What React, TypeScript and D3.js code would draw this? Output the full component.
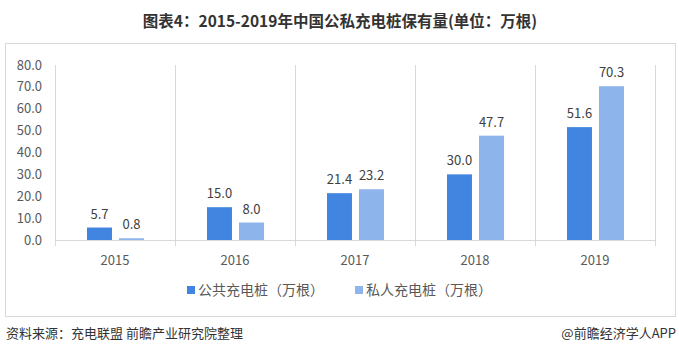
import React from "react";
import * as d3 from "d3";

const years = ["2015", "2016", "2017", "2018", "2019"];
const publicPiles = [5.7, 15.0, 21.4, 30.0, 51.6];
const privatePiles = [0.8, 8.0, 23.2, 47.7, 70.3];
const seriesNames = ["公共充电桩（万根）", "私人充电桩（万根）"];
const seriesColors = ["#4185E1", "#8DB5EB"];
const yTicks = [0, 10, 20, 30, 40, 50, 60, 70, 80];
const title = "图表4：2015-2019年中国公私充电桩保有量(单位：万根)";
const source = "资料来源：充电联盟 前瞻产业研究院整理";
const credit = "@前瞻经济学人APP";

const W = 679;
const H = 360;
const font = "'Microsoft YaHei', 'Noto Sans CJK SC', 'DejaVu Sans', sans-serif";

export default function App() {
  const x = d3.scaleBand().domain(years).range([55, 655]).paddingInner(0).paddingOuter(0);
  const y = d3.scaleLinear().domain([0, 80]).range([240, 65]);
  const inner = d3.scaleBand().domain(["0", "1"]).range([32, 89]).paddingInner(0.22);
  const series = [publicPiles, privatePiles];

  return (
    <svg width={W} height={H} style={{ position: "absolute", left: 0, top: 0, background: "#fff" }}>
      <text x={340} y={27} textAnchor="middle" fontSize={15.5} fontWeight="bold" fill="#333" fontFamily={font}>
        {title}
      </text>
      <rect x={5.5} y={43.5} width={670} height={273} fill="none" stroke="#D9D9D9" />
      {years.map((yr, i) => (
        <line key={"g" + i} x1={(x(yr) as number) + 0.5} x2={(x(yr) as number) + 0.5} y1={65} y2={246} stroke="#D9D9D9" />
      ))}
      <line x1={655.5} x2={655.5} y1={65} y2={246} stroke="#D9D9D9" />
      <line x1={55} x2={655} y1={240.5} y2={240.5} stroke="#D9D9D9" />
      {yTicks.map((t) => (
        <text key={"t" + t} x={42} y={y(t) + 4.5} textAnchor="end" fontSize={13} fill="#595959" fontFamily={font}>
          {t.toFixed(1)}
        </text>
      ))}
      {years.map((yr) => (
        <text key={"c" + yr} x={(x(yr) as number) + x.bandwidth() / 2} y={265} textAnchor="middle" fontSize={13} fill="#595959" fontFamily={font}>
          {yr}
        </text>
      ))}
      {series.map((vals, s) =>
        vals.map((v, i) => {
          const bx = (x(years[i]) as number) + (inner(String(s)) as number);
          return (
            <g key={s + "-" + i}>
              <rect x={bx} y={y(v)} width={inner.bandwidth()} height={240 - y(v)} fill={seriesColors[s]} />
              <text x={bx + inner.bandwidth() / 2} y={y(v) - 9} textAnchor="middle" fontSize={13} fill="#404040" fontFamily={font}>
                {v.toFixed(1)}
              </text>
            </g>
          );
        })
      )}
      {seriesNames.map((n, i) => (
        <g key={"l" + i} transform={`translate(${187 + i * 168},0)`}>
          <rect x={0} y={286} width={8} height={8} fill={seriesColors[i]} />
          <text x={11} y={295} fontSize={14} fill="#595959" fontFamily={font}>
            {n}
          </text>
        </g>
      ))}
      <text x={6} y={338} fontSize={13} fill="#333" fontFamily={font}>
        {source}
      </text>
      <text x={676} y={338} textAnchor="end" fontSize={13} fill="#333" fontFamily={font}>
        {credit}
      </text>
    </svg>
  );
}
